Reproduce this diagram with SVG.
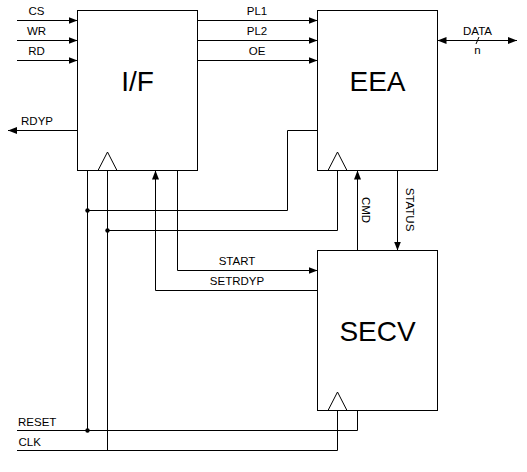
<svg xmlns="http://www.w3.org/2000/svg" width="527" height="472" viewBox="0 0 527 472">
<style>
.box{fill:#fff;stroke:#000;stroke-width:1}
.clk{fill:none;stroke:#000;stroke-width:1}
.w{fill:none;stroke:#000;stroke-width:1}
.t{font-family:"Liberation Sans",Arial,sans-serif;font-size:11.5px;fill:#000}
.m{text-anchor:middle}
.big{font-family:"Liberation Sans",Arial,sans-serif;font-size:28px;fill:#000;text-anchor:middle}
.dot{fill:#000}
</style>
<defs>
<marker id="ah" markerUnits="userSpaceOnUse" markerWidth="10" markerHeight="8" refX="9" refY="3.5" orient="auto-start-reverse">
<path d="M0,0 L9,3.5 L0,7 z" fill="#000"/>
</marker>
</defs>
<rect width="527" height="472" fill="#fff"/>
<g id="connectors">
<path class="w" d="M17,20.5 H77.5" marker-end="url(#ah)"/>
<path class="w" d="M17,40.5 H77.5" marker-end="url(#ah)"/>
<path class="w" d="M17,60.5 H77.5" marker-end="url(#ah)"/>
<path class="w" d="M197.5,20.5 H317.5" marker-end="url(#ah)"/>
<path class="w" d="M197.5,40.5 H317.5" marker-end="url(#ah)"/>
<path class="w" d="M197.5,60.5 H317.5" marker-end="url(#ah)"/>
<path class="w" d="M77.5,130.5 H8" marker-end="url(#ah)"/>
<path class="w" d="M437.5,40.5 H517" marker-start="url(#ah)" marker-end="url(#ah)"/>
<path class="w" d="M476,44 L479,37"/>
<path class="w" d="M17,430.5 H357.5 V410.5"/>
<path class="w" d="M87.5,170.5 V430.5"/>
<path class="w" d="M87.5,210.5 H287.5 V130.5 H317.5"/>
<path class="w" d="M17,450.5 H337.5 V410.5"/>
<path class="w" d="M107.5,170.5 V450.5"/>
<path class="w" d="M107.5,230.5 H337.5 V170.5"/>
<path class="w" d="M177.5,170.5 V270.5 H317.5" marker-end="url(#ah)"/>
<path class="w" d="M317.5,290.5 H155.5 V170.5" marker-end="url(#ah)"/>
<path class="w" d="M357.5,250.5 V170.5" marker-end="url(#ah)"/>
<path class="w" d="M397.5,170.5 V250.5" marker-end="url(#ah)"/>
<circle class="dot" cx="87.5" cy="210.5" r="2.2"/>
<circle class="dot" cx="107.5" cy="230.5" r="2.2"/>
<circle class="dot" cx="87.5" cy="430.5" r="2.2"/>
<text class="t m" x="36.5" y="15">CS</text>
<text class="t m" x="36.5" y="35">WR</text>
<text class="t m" x="36.5" y="55">RD</text>
<text class="t m" x="257" y="15">PL1</text>
<text class="t m" x="257" y="35">PL2</text>
<text class="t m" x="257" y="55">OE</text>
<text class="t m" x="37" y="125">RDYP</text>
<text class="t m" x="477.5" y="35">DATA</text>
<text class="t m" x="477.5" y="54">n</text>
<text class="t m" x="237" y="265">START</text>
<text class="t m" x="237" y="285">SETRDYP</text>
<text class="t m" transform="translate(362,210) rotate(90)">CMD</text>
<text class="t m" transform="translate(406,209.5) rotate(90)">STATUS</text>
<text class="t" x="18" y="426">RESET</text>
<text class="t" x="18.5" y="446">CLK</text>
</g>
<g id="IF">
<rect class="box" x="77.5" y="10.5" width="120" height="160"/>
<polyline class="clk" points="98,170.5 107.5,152 117,170.5"/>
<text class="big" x="137.5" y="91">I/F</text>
</g>
<g id="EEA">
<rect class="box" x="317.5" y="10.5" width="120" height="160"/>
<polyline class="clk" points="328,170.5 337.5,152 347,170.5"/>
<text class="big" x="377.5" y="91">EEA</text>
</g>
<g id="SECV">
<rect class="box" x="317.5" y="250.5" width="120" height="160"/>
<polyline class="clk" points="328,410.5 337.5,392 347,410.5"/>
<text class="big" x="377.5" y="341">SECV</text>
</g>
</svg>
